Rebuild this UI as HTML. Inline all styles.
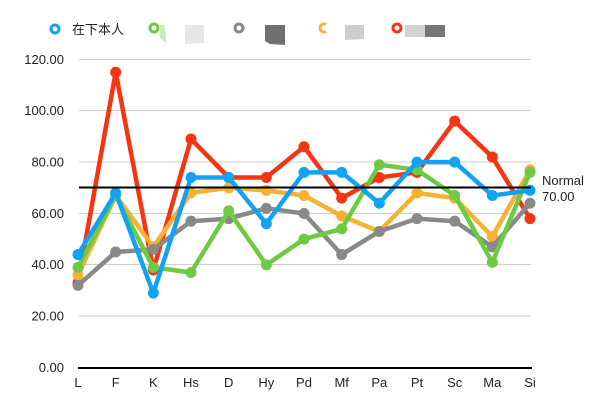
<!DOCTYPE html>
<html><head><meta charset="utf-8"><style>
html,body{margin:0;padding:0;background:#fff;}
svg{display:block;}
text{font-family:"Liberation Sans","Noto Sans CJK SC",sans-serif;fill:#222;}
</style></head><body>
<svg width="610" height="409" viewBox="0 0 610 409" xmlns="http://www.w3.org/2000/svg">
<!-- legend -->
<g fill="none" stroke-width="3">
<circle cx="55" cy="29" r="4" stroke="#12a2f4"/>
<circle cx="154" cy="28" r="4" stroke="#6ccb43"/>
<circle cx="239" cy="28" r="4" stroke="#888"/>
<path d="M326 24.5 A4 4 0 1 0 326 31.5" stroke="#f8b132"/>
<circle cx="397" cy="28" r="4" stroke="#f43512"/>
</g>
<text x="72" y="34" font-size="13">在下本人</text>
<path d="M160 25 L164 25 Q166 30 166 43 L160 38 Z" fill="#c8ebb8"/>
<path d="M185 25 L204 25 L204 43 L185 44 Z" fill="#e6e6e6"/>
<path d="M265 25 L285 25 L285 45 L270 44 L265 41 Z" fill="#707070"/>
<path d="M345 25 L364 25 L364 39 L345 40 Z" fill="#cdcdcd"/>
<rect x="405" y="25" width="20" height="12" fill="#d2d2d2"/>
<rect x="425" y="25" width="20" height="12" fill="#767676"/>
<!-- grid -->
<g stroke="#cfcfcf" stroke-width="1">
<line x1="79" y1="59.5" x2="531" y2="59.5"/>
<line x1="79" y1="110.5" x2="531" y2="110.5"/>
<line x1="79" y1="162" x2="531" y2="162"/>
<line x1="79" y1="213.5" x2="531" y2="213.5"/>
<line x1="79" y1="264.5" x2="531" y2="264.5"/>
<line x1="79" y1="316" x2="531" y2="316"/>
</g>
<line x1="78" y1="368" x2="532" y2="368" stroke="#000" stroke-width="2"/>
<g font-size="13" text-anchor="end">
<text x="64" y="64">120.00</text>
<text x="64" y="115">100.00</text>
<text x="64" y="166.5">80.00</text>
<text x="64" y="218">60.00</text>
<text x="64" y="269">40.00</text>
<text x="64" y="320.5">20.00</text>
<text x="64" y="372">0.00</text>
</g>
<g font-size="13" text-anchor="middle">
<text x="78" y="387">L</text>
<text x="115.7" y="387">F</text>
<text x="153.3" y="387">K</text>
<text x="191" y="387">Hs</text>
<text x="228.7" y="387">D</text>
<text x="266.3" y="387">Hy</text>
<text x="304" y="387">Pd</text>
<text x="341.7" y="387">Mf</text>
<text x="379.3" y="387">Pa</text>
<text x="417" y="387">Pt</text>
<text x="454.7" y="387">Sc</text>
<text x="492.3" y="387">Ma</text>
<text x="530" y="387">Si</text>
</g>
<g id="series" fill="none" stroke-width="4.5" stroke-linejoin="round" stroke-linecap="round"></g>
<line x1="79" y1="187.5" x2="531" y2="187.5" stroke="#000" stroke-width="2"/>
<text x="542" y="185" font-size="13">Normal</text>
<text x="542" y="201" font-size="13">70.00</text>
<script>
var xs=[];for(var i=0;i<13;i++)xs.push(78+i*37.667);
function Y(v){return 367.5-v*2.567;}
var S=[
["#f43512",[33,115,38,89,74,74,86,66,74,76,96,82,58]],
["#f8b132",[36,67,47,68,70,69,67,59,53,68,66,51,77]],
["#898989",[32,45,46,57,58,62,60,44,53,58,57,47,64]],
["#6ccb43",[39,67,39,37,61,40,50,54,79,77,67,41,76]],
["#12a2f4",[44,68,29,74,74,56,76,76,64,80,80,67,69]]
];
var g=document.getElementById('series'),ns="http://www.w3.org/2000/svg";
S.forEach(function(s){
 var d="";s[1].forEach(function(v,i){d+=(i?"L":"M")+xs[i].toFixed(1)+" "+Y(v).toFixed(1)+" ";});
 var p=document.createElementNS(ns,"path");p.setAttribute("d",d);p.setAttribute("stroke",s[0]);g.appendChild(p);
 s[1].forEach(function(v,i){var c=document.createElementNS(ns,"circle");c.setAttribute("cx",xs[i]);c.setAttribute("cy",Y(v));c.setAttribute("r","5.5");c.setAttribute("fill",s[0]);c.setAttribute("stroke","none");g.appendChild(c);});
});
</script>
</svg>
</body></html>
